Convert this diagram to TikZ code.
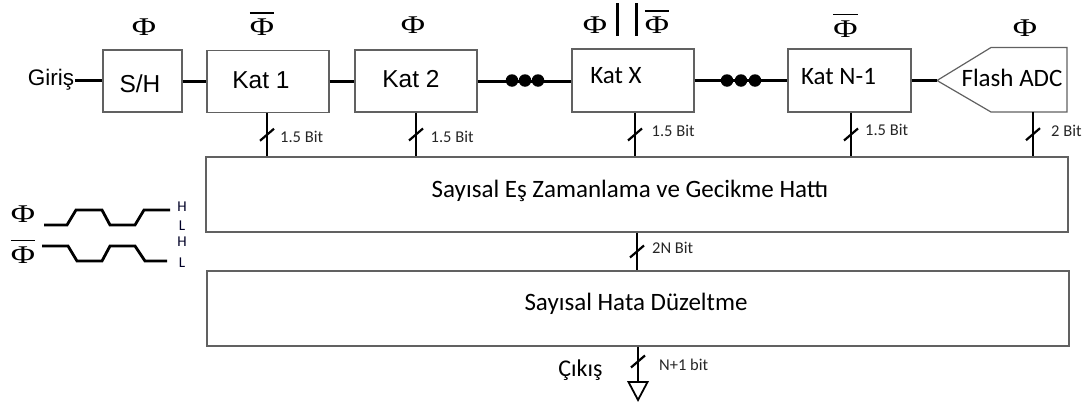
\documentclass[tikz,border=0pt]{standalone}
\usepackage{fontspec}
\usepackage{graphicx}
\setmainfont{Liberation Sans}
\newfontfamily\calfont{Carlito}
\newfontfamily\phifont{Liberation Serif}
\usetikzlibrary{calc}
% wide Phi, and Phi with an overbar (inverted clock phase)
\newcommand\wphi{\scalebox{1.3}[1]{Φ}}
\newcommand\ovphi{\vbox{\hrule height 1.6pt\kern 5pt\hbox{\wphi}}}
\begin{document}
\begin{tikzpicture}[x=1pt,y=-1pt,
  box/.style={draw=black!62, line width=1.2pt, inner sep=0pt},
  wire/.style={line width=3pt},
  bitw/.style={line width=2.7pt},
  ph/.style={font=\phifont\fontsize{25.5}{26}\selectfont, inner sep=0pt, anchor=base},
  ar/.style={font=\fontsize{24.5}{28}\selectfont, inner sep=0pt, anchor=base},
  cb/.style={font=\calfont\fontsize{25}{28}\selectfont, inner sep=0pt, anchor=base},
  bit/.style={font=\calfont\fontsize{16.5}{18}\selectfont, inner sep=0pt, anchor=base west, text=black!85},
  hl/.style={font=\calfont\fontsize{15}{16}\selectfont, inner sep=0pt, anchor=base, text=black!75!blue!60!black},
  dot/.style={circle, fill=black, inner sep=0pt, minimum size=12.5pt},
  wave/.style={line width=2.8pt},
  pics/slashmark/.style={code={\draw[line width=2.2pt] (-7,6) -- (7,-6);}}
]
\useasboundingbox (0,0) rectangle (1089,407);

% pipeline blocks
\node[box, minimum width=79pt, minimum height=62pt] (sh) at (142.5,81) {};
\node[box, minimum width=122pt, minimum height=62pt] (k1) at (268,81.5) {};
\node[box, minimum width=122pt, minimum height=62pt] (k2) at (416,81) {};
\node[box, minimum width=122pt, minimum height=63pt] (kx) at (633,80.5) {};
\node[box, minimum width=123pt, minimum height=63pt] (kn) at (849.5,80.5) {};
% flash ADC outline
\coordinate (fltip) at (937,80.5);
\coordinate (flout) at (1033,112);
\draw[draw=black!62, line width=1.2pt] (fltip) -- (991,47.5) -- (1067,47.5) -- (1067,112) -- (991,112) -- cycle;

% digital blocks
\node[box, minimum width=862pt, minimum height=75pt] (sync) at (637,194.5) {};
\node[box, minimum width=862pt, minimum height=75pt] (err) at (638,308.5) {};

% block texts
\node[ar] (tsh) at (140,92.5) {S/H};
\node[ar] (tk1) at (261,88.3) {Kat 1};
\node[ar] (tk2) at (411,87.5) {Kat 2};
\node[cb] (tkx) at (616,83.5) {Kat X};
\node[cb] (tkn) at (838.5,84.5) {Kat N-1};
\node[cb] (tfl) at (1012,86) {Flash ADC};
\node[cb] (tsync) at (630,197.3) {Sayısal Eş Zamanlama ve Gecikme Hattı};
\node[cb] (terr) at (636,310) {Sayısal Hata Düzeltme};
\node[ar, font=\fontsize{22.5}{26}\selectfont] (giris) at (51,85) {Giriş};
\node[cb, font=\calfont\fontsize{24}{26}\selectfont] (cikis) at (580.5,376.7) {Çıkış};

% analog signal chain
\coordinate (gw) at ([xshift=1pt]giris.east |- 0,80.5);
\draw[wire] (gw) -- (gw -| sh.west);
\draw[wire] (sh.east) -- (sh.east -| k1.west);
\draw[wire] (k1.east) -- (k1.east -| k2.west);
\draw[wire] (k2.east) -- (k2.east -| kx.west);
\draw[wire] (kx.east) -- (kx.east -| kn.west);
\draw[wire] (kn.east) -- (fltip);
\node[dot] (d1) at (512,80.5) {};
\node[dot] (d2) at (525,80.5) {};
\node[dot] (d3) at (538,80.5) {};
\node[dot] (d4) at (727,80.5) {};
\node[dot] (d5) at (741,80.5) {};
\node[dot] (d6) at (755,80.5) {};

% stage outputs into the alignment block
\coordinate (b1) at (k1.south -| 267,0);
\coordinate (b3) at (kx.south -| 635,0);
\coordinate (b4) at (kn.south -| 851,0);
\foreach \s in {b1, k2.south, b3, b4, flout} {
  \draw[bitw] (\s) -- (\s |- sync.north);
  \pic at ($(\s)!0.5!(\s |- sync.north)$) {slashmark};
}
\node[bit] (l1) at (280,142) {1.5 Bit};
\node[bit] (l2) at (430.5,142) {1.5 Bit};
\node[bit] (l3) at (651.5,136.5) {1.5 Bit};
\node[bit] (l4) at (865,135) {1.5 Bit};
\node[bit] (l5) at (1051,136.5) {2 Bit};

% alignment -> correction
\draw[bitw] (sync.south) -- (sync.south |- err.north);
\pic at ($(sync.south)!0.5!(sync.south |- err.north)$) {slashmark};
\node[bit] (l6) at (652,253) {2N Bit};

% output
\coordinate (gnd) at (638,382);
\draw[bitw] (err.south) -- (gnd);
\pic at ($(err.south)!0.42!(gnd)$) {slashmark};
\draw[line width=1.8pt, line join=miter] (gnd) ++(-9.5,0) -- ++(19,0) -- ++(-9.5,18) -- cycle;
\node[bit] (l7) at (659,370) {N+1 bit};

% clock phases of the stages
\node[ph] (p1) at (144,35.5) {\wphi};
\node[ph] (p2) at (262,35.5) {\ovphi};
\node[ph] (p3) at (413,33.5) {\wphi};
\node[ph] (p4) at (595,33.3) {\wphi};
\node[ph] (p5) at (657,33.3) {\ovphi};
\node[ph] (p6) at (845.5,37) {\ovphi};
\node[ph] (p7) at (1025,36) {\wphi};
\draw[line width=3pt] (617,3) -- (617,36) (636,3) -- (636,36);

% two-phase clock waveforms
\node[ph] (w1) at (23,222.5) {\wphi};
\node[ph] (w2) at (23,263) {\ovphi};
\draw[wave] (44,225) -- (67,225) -- (76,210) -- (102,210) -- (110,225) -- (135,225) -- (144,210) -- (170,210);
\draw[wave] (42,246) -- (68,246) -- (77,261) -- (102,261) -- (110,246) -- (135,246) -- (145,261) -- (167,261);
\node[hl] (h1) at (182,211) {H};
\node[hl] (h2) at (182,230) {L};
\node[hl] (h3) at (182,246) {H};
\node[hl] (h4) at (182,267) {L};
\end{tikzpicture}
\end{document}
